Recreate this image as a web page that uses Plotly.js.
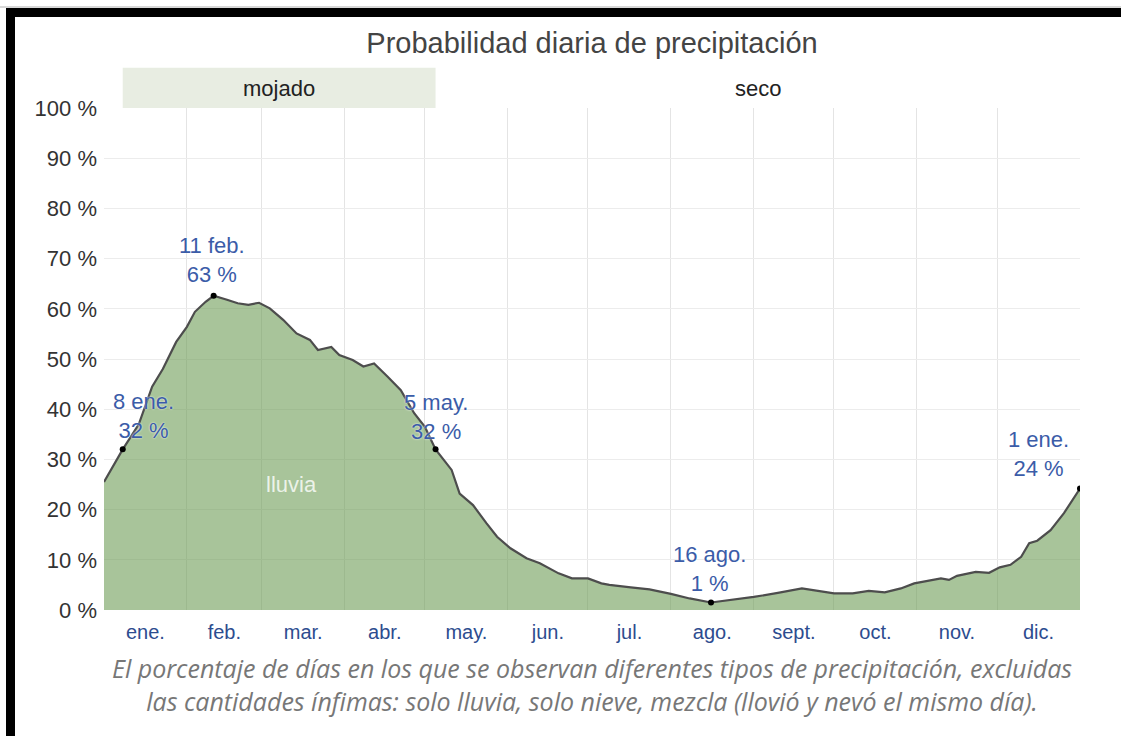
<!DOCTYPE html>
<html>
<head>
<meta charset="utf-8">
<script src="https://cdn.plot.ly/plotly-3.0.1.min.js"></script>
<style>
  html, body { margin: 0; padding: 0; background: #fff; }
  #wrap { position: relative; width: 1121px; height: 736px; overflow: hidden; }
  #chart { position: absolute; left: 0; top: 0; width: 1121px; height: 736px; }
  #topbar { position: absolute; left: 6px; top: 8px; width: 1115px; height: 9px; background: #000; }
  #leftbar { position: absolute; left: 6px; top: 8px; width: 9px; height: 728px; background: #000; }
  #topline { position: absolute; left: 0; top: 6px; width: 1121px; height: 2px; background: #d8d8d8; }
</style>
</head>
<body>
<div id="wrap">
  <div id="chart"></div>
  <div id="topline"></div>
  <div id="topbar"></div>
  <div id="leftbar"></div>
</div>
<script>
// ---- data ----
const monthNames = ["ene.", "feb.", "mar.", "abr.", "may.", "jun.", "jul.", "ago.", "sept.", "oct.", "nov.", "dic."];
const monthStarts = [0, 31, 59, 90, 120, 151, 181, 212, 243, 273, 304, 334, 365];

// day of year (0 = 1 ene.) and daily probability of precipitation (%)
const days = [0, 7, 13, 18, 22, 27, 31, 34, 38, 41, 46, 50, 54, 58, 62, 67, 72, 77, 80, 85, 88,
  93, 97, 101, 106, 111, 116, 120, 124, 130, 133, 138, 143, 147, 152, 158, 163, 170, 175, 181,
  186, 189, 197, 204, 212, 219, 227, 234, 243, 252, 261, 267, 273, 280, 286, 292, 298, 303,
  308, 313, 316, 319, 326, 331, 335, 339, 343, 346, 349, 354, 359, 365];
const rainPct = [25.5, 32, 37, 44.5, 48, 53.4, 56.4, 59.4, 61.4, 62.6, 61.8, 61.1, 60.8, 61.2, 60.1, 57.8, 55.1, 53.8, 51.8, 52.4, 50.8,
  49.8, 48.5, 49.1, 46.5, 43.8, 39.2, 36.5, 32, 27.9, 23.2, 20.9, 17.3, 14.6, 12.3, 10.3, 9.3, 7.3, 6.3, 6.3,
  5.3, 5.0, 4.5, 4.1, 3.2, 2.3, 1.5, 2.0, 2.6, 3.4, 4.3, 3.8, 3.3, 3.3, 3.8, 3.5, 4.3, 5.3,
  5.8, 6.3, 6.0, 6.8, 7.6, 7.4, 8.5, 9.0, 10.6, 13.3, 13.8, 15.9, 19.3, 24.2];

// highlighted points
const markDays = [7, 41, 124, 227, 365];
const markPct = [32, 62.6, 32, 1.5, 24.2];
const markLabels = ["8 ene.<br>32 %", "11 feb.<br>63 %", "5 may.<br>32 %", "16 ago.<br>1 %", "1 ene.<br>24 %"];

// seasons
const seasonNames = ["mojado", "seco"];
const seasonStart = [7, 124];
const seasonEnd = [124, 365];

const yTicks = [0, 10, 20, 30, 40, 50, 60, 70, 80, 90, 100];
const yTickText = ["0 %", "10 %", "20 %", "30 %", "40 %", "50 %", "60 %", "70 %", "80 %", "90 %", "100 %"];
const caption = "El porcentaje de días en los que se observan diferentes tipos de precipitación, excluidas<br>las cantidades ínfimas: solo lluvia, solo nieve, mezcla (llovió y nevó el mismo día).";

// ---- derived ----
const monthMids = monthNames.map((m, i) => (monthStarts[i] + monthStarts[i + 1]) / 2);
const monthBounds = monthStarts.slice(1, -1);

const font = "Liberation Sans, Arial, sans-serif";
const labelBlue = "#3b5ca8";

const traces = [
  {
    x: days, y: rainPct, type: "scatter", mode: "lines",
    fill: "tozeroy", fillcolor: "rgba(110,157,87,0.6)",
    line: { color: "#4d4d4d", width: 2.2 },
    hoverinfo: "skip", showlegend: false
  },
  {
    x: markDays, y: markPct, type: "scatter", mode: "markers",
    marker: { color: "#000", size: 6 },
    hoverinfo: "skip", showlegend: false
  }
];

const shiftX = [21, -2, 0, -1, -42];
const shiftY = [33, 36, 32, 33, 35];
const annotations = markDays.map((d, i) => ({
  x: d, y: markPct[i], xref: "x", yref: "y", text: markLabels[i], showarrow: false,
  xshift: shiftX[i], yshift: shiftY[i], align: "center",
  font: { family: font, size: 22, color: labelBlue, shadow: "0px 0px 2px #fff" }
}));

seasonNames.forEach((s, i) => {
  annotations.push({
    x: (seasonStart[i] + seasonEnd[i]) / 2, y: 1.038, xref: "x", yref: "paper",
    text: s, showarrow: false, yanchor: "middle",
    font: { family: font, size: 22, color: "#222" }
  });
});

annotations.push({
  x: 70, y: 25, xref: "x", yref: "y", text: "lluvia", showarrow: false,
  font: { family: font, size: 22, color: "rgba(255,255,255,0.8)" }
});

annotations.push({
  x: 0.5, y: -0.149, xref: "paper", yref: "paper", text: caption, showarrow: false,
  yanchor: "middle", align: "center",
  font: { family: "Open Sans, sans-serif", size: 25, color: "#777", style: "italic" }
});

const shapes = [{
  type: "rect", xref: "x", yref: "paper",
  x0: seasonStart[0], x1: seasonEnd[0], y0: 1, y1: 1.08,
  fillcolor: "#e8ede2", line: { width: 0 }, layer: "below"
}];

const layout = {
  width: 1121, height: 736,
  margin: { l: 104, r: 41, t: 108, b: 126 },
  paper_bgcolor: "#fff", plot_bgcolor: "#fff",
  title: {
    text: "Probabilidad diaria de precipitación",
    x: 0.5, xref: "paper", y: 1 - 43 / 736, yref: "container", yanchor: "middle",
    font: { family: font, size: 29, color: "#444" }
  },
  xaxis: {
    range: [0, 365], tickmode: "array", tickvals: monthMids, ticktext: monthNames,
    showgrid: false, zeroline: false, showline: false, ticks: "", ticklabelstandoff: 8,
    tickfont: { family: font, size: 20, color: "#2d4c8f" },
    minor: { tickmode: "array", tickvals: monthBounds, showgrid: true, gridcolor: "#e4e4e4", gridwidth: 1, ticks: "" },
    fixedrange: true
  },
  yaxis: {
    range: [0, 100], tickmode: "array", tickvals: yTicks, ticktext: yTickText,
    showgrid: true, gridcolor: "#ececec", zeroline: false, showline: false, ticks: "", ticklabelstandoff: 6,
    tickfont: { family: font, size: 22, color: "#333" },
    fixedrange: true
  },
  annotations: annotations,
  shapes: shapes,
  showlegend: false
};

Plotly.newPlot("chart", traces, layout, { staticPlot: true, displayModeBar: false });
</script>
</body>
</html>
